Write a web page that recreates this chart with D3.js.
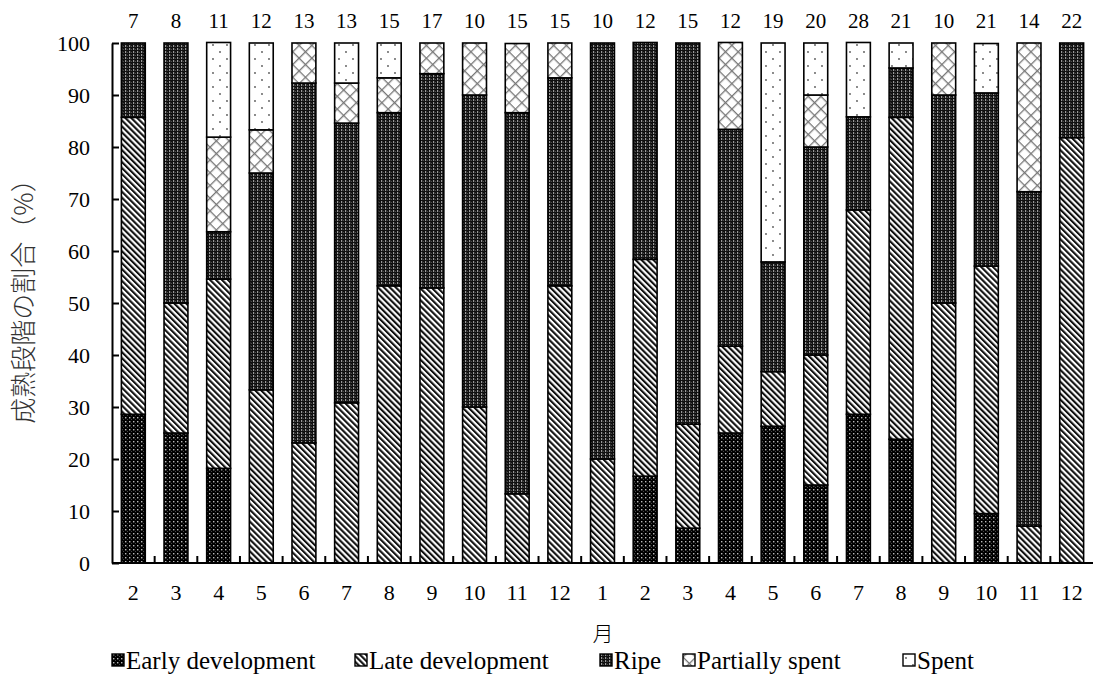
<!DOCTYPE html>
<html>
<head>
<meta charset="utf-8">
<script src="https://cdn.jsdelivr.net/npm/d3@7"></script>
<style>
  body { margin: 0; background: #fff; }
  svg text { font-family: "Liberation Serif", "Times New Roman", Tinos, "DejaVu Serif", serif; fill: #000; }
</style>
</head>
<body>
<div id="chart"></div>
<script>
// Data ------------------------------------------------------------------------------------------------------------
const months = ["2", "3", "4", "5", "6", "7", "8", "9", "10", "11", "12",
  "1", "2", "3", "4", "5", "6", "7", "8", "9", "10", "11", "12"];
const counts = [7, 8, 11, 12, 13, 13, 15, 17, 10, 15, 15, 10, 12, 15, 12, 19, 20, 28, 21, 10, 21, 14, 22];
const stages = ["Early development", "Late development", "Ripe", "Partially spent", "Spent"];

const earlyDev = [28.6, 25.0, 18.2, 0, 0, 0, 0, 0, 0, 0, 0, 0, 16.7, 6.7, 25.0, 26.3, 15.0, 28.6, 23.8, 0, 9.5, 0, 0];
const lateDev = [57.1, 25.0, 36.4, 33.3, 23.1, 30.8, 53.3, 52.9, 30.0, 13.3, 53.3, 20.0, 41.7, 20.0, 16.7, 10.5, 25.0, 39.3, 61.9, 50.0, 47.6, 7.1, 81.8];
const ripe = [14.3, 50.0, 9.1, 41.7, 69.2, 53.8, 33.3, 41.2, 60.0, 73.3, 40.0, 80.0, 41.7, 73.3, 41.7, 21.1, 40.0, 17.9, 9.5, 40.0, 33.3, 64.3, 18.2];
const partSpent = [0, 0, 18.2, 8.3, 7.7, 7.7, 6.7, 5.9, 10.0, 13.3, 6.7, 0, 0, 0, 16.7, 0, 10.0, 0, 0, 10.0, 0, 28.6, 0];
const spent = [0, 0, 18.2, 16.7, 0, 7.7, 6.7, 0, 0, 0, 0, 0, 0, 0, 0, 42.1, 10.0, 14.3, 4.8, 0, 9.5, 0, 0];

const yTicks = [0, 10, 20, 30, 40, 50, 60, 70, 80, 90, 100];

// Canvas ----------------------------------------------------------------------------------------------------------
const canvasWidth = 1094;
const canvasHeight = 680;
const leftPadding = 112;
const rightPadding = 1;
const topPadding = 43;
const bottomPadding = 117;

const svg = d3.select("#chart")
  .append("svg")
  .attr("width", canvasWidth)
  .attr("height", canvasHeight);

// Patterns --------------------------------------------------------------------------------------------------------
const defs = svg.append("defs");

const pEarly = defs.append("pattern").attr("id", "p0")
  .attr("patternUnits", "userSpaceOnUse").attr("width", 4).attr("height", 4);
pEarly.append("rect").attr("width", 4).attr("height", 4).attr("fill", "#000");
pEarly.append("rect").attr("x", 1).attr("y", 1).attr("width", 1.4).attr("height", 1.4).attr("fill", "#bbb");
pEarly.append("rect").attr("x", 3).attr("y", 3).attr("width", 1).attr("height", 1).attr("fill", "#444");

const pLate = defs.append("pattern").attr("id", "p1")
  .attr("patternUnits", "userSpaceOnUse").attr("width", 4.2).attr("height", 4.2)
  .attr("patternTransform", "rotate(-45)");
pLate.append("rect").attr("width", 4.2).attr("height", 4.2).attr("fill", "#fff");
pLate.append("rect").attr("x", 0).attr("width", 2.1).attr("height", 4.2).attr("fill", "#111");

const pRipe = defs.append("pattern").attr("id", "p2")
  .attr("patternUnits", "userSpaceOnUse").attr("width", 4).attr("height", 3);
pRipe.append("rect").attr("width", 4).attr("height", 3).attr("fill", "#111");
pRipe.append("rect").attr("x", 1).attr("y", 0).attr("width", 1.2).attr("height", 2).attr("fill", "#999");
pRipe.append("rect").attr("x", 3).attr("y", 1).attr("width", 0.8).attr("height", 1).attr("fill", "#555");

const pPart = defs.append("pattern").attr("id", "p3")
  .attr("patternUnits", "userSpaceOnUse").attr("width", 9).attr("height", 9)
  .attr("patternTransform", "rotate(45)");
pPart.append("rect").attr("width", 9).attr("height", 9).attr("fill", "#fff");
pPart.append("rect").attr("width", 1.3).attr("height", 9).attr("fill", "#777");
pPart.append("rect").attr("width", 9).attr("height", 1.3).attr("fill", "#777");

const pSpent = defs.append("pattern").attr("id", "p4")
  .attr("patternUnits", "userSpaceOnUse").attr("width", 14).attr("height", 14);
pSpent.append("rect").attr("width", 14).attr("height", 14).attr("fill", "#fff");
pSpent.append("circle").attr("cx", 3).attr("cy", 3).attr("r", 0.9).attr("fill", "#555");
pSpent.append("circle").attr("cx", 10).attr("cy", 10).attr("r", 0.9).attr("fill", "#555");

// Scales ----------------------------------------------------------------------------------------------------------
const keys = months.map((m, i) => i);
const xScale = d3.scaleBand()
  .domain(keys)
  .range([leftPadding, canvasWidth - rightPadding])
  .paddingInner(0.44)
  .paddingOuter(0.22);
const yScale = d3.scaleLinear()
  .domain([0, 100])
  .range([canvasHeight - bottomPadding, topPadding]);

const table = keys.map(i => ({
  i: i,
  s0: earlyDev[i], s1: lateDev[i], s2: ripe[i], s3: partSpent[i], s4: spent[i]
}));
const stack = d3.stack().keys(["s0", "s1", "s2", "s3", "s4"])(table);

// Bars ------------------------------------------------------------------------------------------------------------
const layers = svg.append("g").selectAll("g")
  .data(stack)
  .join("g")
  .attr("fill", (d, k) => "url(#p" + k + ")");

layers.selectAll("rect")
  .data(d => d.filter(v => v[1] - v[0] > 0))
  .join("rect")
  .attr("x", d => xScale(d.data.i))
  .attr("y", d => yScale(d[1]))
  .attr("width", xScale.bandwidth())
  .attr("height", d => yScale(d[0]) - yScale(d[1]))
  .attr("stroke", "#000")
  .attr("stroke-width", 1.6);

// Axes ------------------------------------------------------------------------------------------------------------
const yAxis = svg.append("g")
  .attr("transform", "translate(" + leftPadding + ",0)")
  .call(d3.axisLeft(yScale).tickValues(yTicks).tickSize(-7).tickPadding(22).tickSizeOuter(0));
yAxis.attr("font-family", null);
yAxis.selectAll("text")
  .style("font-size", "22px");
yAxis.selectAll("path, line").attr("stroke", "#000").attr("stroke-width", 2);

const xAxis = svg.append("g")
  .attr("transform", "translate(0," + (canvasHeight - bottomPadding) + ")");
xAxis.append("line")
  .attr("x1", leftPadding).attr("x2", canvasWidth - rightPadding)
  .attr("stroke", "#000").attr("stroke-width", 2);
const step = xScale.step();
xAxis.selectAll("line.tick")
  .data(keys.slice(0, keys.length - 1))
  .join("line")
  .attr("class", "tick")
  .attr("x1", d => xScale(d) + xScale.bandwidth() + (step - xScale.bandwidth()) / 2)
  .attr("x2", d => xScale(d) + xScale.bandwidth() + (step - xScale.bandwidth()) / 2)
  .attr("y1", 0).attr("y2", -7)
  .attr("stroke", "#000").attr("stroke-width", 2);
xAxis.selectAll("text")
  .data(keys)
  .join("text")
  .attr("x", d => xScale(d) + xScale.bandwidth() / 2)
  .attr("y", 37)
  .attr("text-anchor", "middle")
  .style("font-size", "22px")
  .text(d => months[d]);

// Sample sizes above bars
svg.append("g").selectAll("text")
  .data(keys)
  .join("text")
  .attr("x", d => xScale(d) + xScale.bandwidth() / 2)
  .attr("y", 28)
  .attr("text-anchor", "middle")
  .style("font-size", "21px")
  .text(d => counts[d]);

// Axis titles
svg.append("text")
  .attr("x", 603).attr("y", 641)
  .attr("text-anchor", "middle")
  .style("font-family", "Noto Sans CJK JP")
  .style("font-weight", 300)
  .style("font-size", "21px")
  .text("月");

svg.append("text")
  .attr("transform", "translate(33," + 295 + ") rotate(-90)")
  .attr("text-anchor", "middle")
  .style("font-family", "Noto Sans CJK JP")
  .style("font-weight", 300)
  .style("font-size", "26px")
  .style("fill", "#333")
  .text("成熟段階の割合（%）");

// Legend ----------------------------------------------------------------------------------------------------------
const legendX = [112, 355, 600, 683, 903];
const legend = svg.append("g").selectAll("g")
  .data(stages)
  .join("g")
  .attr("transform", (d, k) => "translate(" + legendX[k] + ",669)");
legend.append("rect")
  .attr("x", 0).attr("y", -15)
  .attr("width", 12).attr("height", 12)
  .attr("fill", (d, k) => "url(#p" + k + ")")
  .attr("stroke", "#000").attr("stroke-width", 1.4);
legend.append("text")
  .attr("x", 14).attr("y", 0)
  .style("font-size", "25px")
  .text(d => d);
</script>
</body>
</html>
